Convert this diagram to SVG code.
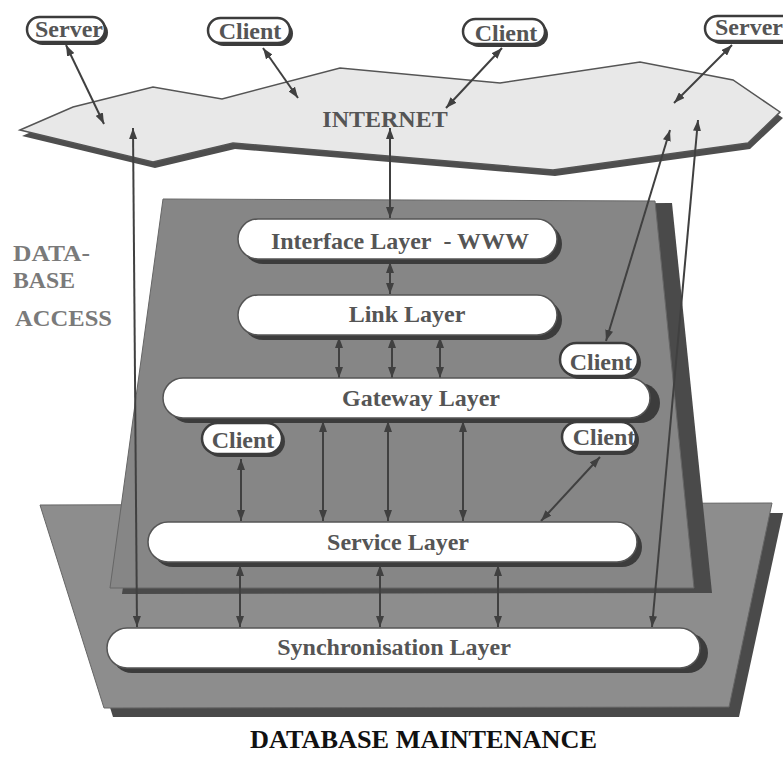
<svg xmlns="http://www.w3.org/2000/svg" width="783" height="775" viewBox="0 0 783 775">
<defs>
<marker id="ah" viewBox="0 0 11 8" refX="11" refY="4" markerWidth="11" markerHeight="8" markerUnits="userSpaceOnUse" orient="auto-start-reverse"><path d="M0,0 L11,4 L0,8 z" fill="#404040"/></marker>
</defs>
<style>
.lbl{font-family:"Liberation Serif","Times New Roman",serif;font-weight:bold;font-size:24px;fill:#555;text-anchor:middle}
.side{font-family:"Liberation Serif","Times New Roman",serif;font-weight:bold;font-size:23px;fill:#7a7a7a}
.title{font-family:"Liberation Serif","Times New Roman",serif;font-weight:bold;font-size:26px;fill:#111}
.pill{fill:#fff;stroke:#555;stroke-width:1.5}
.shadow{fill:#3c3c3c}
.node{fill:#fff;stroke:#3c3c3c;stroke-width:2.5}
.con line{stroke:#404040;stroke-width:2;marker-start:url(#ah);marker-end:url(#ah)}
</style>
<rect x="0" y="0" width="783" height="775" fill="#fff"/>

<g id="maintenance-plane">
<polygon points="50,515 783,513 739,717 113,717" fill="#4a4a4a"/>
<polygon points="40,505 772,503 729,707 104,708" fill="#8d8d8d" stroke="#666" stroke-width="1"/>
</g>

<g id="access-plane">
<polygon points="178,205 672,203 712,593 122,594" fill="#4a4a4a"/>
<polygon points="163,199 655,201 694,588 110,588" fill="#868686" stroke="#666" stroke-width="1"/>
</g>

<g id="internet">
<polygon points="22,136 75,113 155,93 224,105 342,74 502,89 642,68 735,86 783,118 750,149 555,176 235,149 155,168" fill="#4e4e4e"/>
<polygon points="20,130 73,107 153,87 222,99 340,68 500,83 640,62 733,80 780,112 748,143 553,170 233,143 153,162" fill="#e8e8e8" stroke="#555" stroke-width="1.5"/>
<text class="lbl" x="385" y="127" font-size="23">INTERNET</text>
</g>

<g id="side-labels">
<text class="side" x="13" y="261" textLength="77" lengthAdjust="spacingAndGlyphs">DATA-</text>
<text class="side" x="13" y="288" textLength="62" lengthAdjust="spacingAndGlyphs">BASE</text>
<text class="side" x="15" y="326" textLength="97" lengthAdjust="spacingAndGlyphs">ACCESS</text>
</g>

<g id="connectors" class="con">
<line x1="66" y1="45" x2="104" y2="124"/>
<line x1="263" y1="48" x2="298" y2="98"/>
<line x1="502" y1="48" x2="446" y2="108"/>
<line x1="732" y1="45" x2="674" y2="103"/>
<line x1="133" y1="128" x2="137" y2="627"/>
<line x1="390" y1="128" x2="390" y2="218"/>
<line x1="670" y1="130" x2="606" y2="341"/>
<line x1="698" y1="120" x2="652" y2="627"/>
<line x1="390" y1="262" x2="390" y2="294"/>
<line x1="339" y1="337" x2="339" y2="378"/>
<line x1="392" y1="337" x2="392" y2="378"/>
<line x1="440" y1="337" x2="440" y2="378"/>
<line x1="241" y1="459" x2="241" y2="521"/>
<line x1="323" y1="421" x2="323" y2="521"/>
<line x1="388" y1="421" x2="388" y2="521"/>
<line x1="463" y1="421" x2="463" y2="521"/>
<line x1="600" y1="457" x2="541" y2="521"/>
<line x1="240" y1="565" x2="240" y2="627"/>
<line x1="380" y1="565" x2="380" y2="627"/>
<line x1="498" y1="565" x2="498" y2="627"/>
</g>

<g id="interface-layer">
<rect class="shadow" x="243" y="224" width="319" height="40" rx="20"/>
<rect class="pill" x="238" y="219" width="319" height="40" rx="20"/>
<text class="lbl" x="400" y="249">Interface Layer&#160;&#160;- WWW</text>
</g>
<g id="link-layer">
<rect class="shadow" x="243" y="300" width="319" height="40" rx="20"/>
<rect class="pill" x="238" y="295" width="319" height="40" rx="20"/>
<text class="lbl" x="407" y="322">Link Layer</text>
</g>
<g id="gateway-layer">
<rect class="shadow" x="169" y="383" width="491" height="40" rx="20"/>
<rect class="pill" x="163" y="378" width="487" height="40" rx="20"/>
<text class="lbl" x="421" y="406">Gateway Layer</text>
</g>
<g id="service-layer">
<rect class="shadow" x="153" y="527" width="489" height="40" rx="20"/>
<rect class="pill" x="148" y="522" width="489" height="40" rx="20"/>
<text class="lbl" x="398" y="550">Service Layer</text>
</g>
<g id="sync-layer">
<rect class="shadow" x="112" y="633" width="596" height="40" rx="20"/>
<rect class="pill" x="107" y="628" width="593" height="40" rx="20"/>
<text class="lbl" x="394" y="655">Synchronisation Layer</text>
</g>

<g id="server-left">
<rect class="shadow" x="30" y="20" width="78" height="25" rx="12.5"/>
<rect class="node" x="27" y="17" width="78" height="25" rx="12.5"/>
<text class="lbl" x="69" y="37">Server</text>
</g>
<g id="client-top-1">
<rect class="shadow" x="211" y="21" width="82" height="25" rx="12.5"/>
<rect class="node" x="208" y="18" width="82" height="25" rx="12.5"/>
<text class="lbl" x="250" y="39">Client</text>
</g>
<g id="client-top-2">
<rect class="shadow" x="466" y="22" width="82" height="25" rx="12.5"/>
<rect class="node" x="463" y="19" width="82" height="25" rx="12.5"/>
<text class="lbl" x="506" y="41">Client</text>
</g>
<g id="server-right">
<rect class="shadow" x="708" y="19" width="90" height="25" rx="12.5"/>
<rect class="node" x="705" y="16" width="90" height="25" rx="12.5"/>
<text class="lbl" x="749" y="35">Server</text>
</g>
<g id="client-mid-right">
<rect class="shadow" x="563" y="346" width="78" height="33" rx="16.5"/>
<rect class="node" x="560" y="343" width="78" height="33" rx="16.5"/>
<text class="lbl" x="601" y="370">Client</text>
</g>
<g id="client-low-left">
<rect class="shadow" x="205" y="426" width="80" height="31" rx="15.5"/>
<rect class="node" x="202" y="423" width="80" height="31" rx="15.5"/>
<text class="lbl" x="243" y="448">Client</text>
</g>
<g id="client-low-right">
<rect class="shadow" x="565" y="425" width="74" height="30" rx="15"/>
<rect class="node" x="562" y="422" width="74" height="30" rx="15"/>
<text class="lbl" x="604" y="445">Client</text>
</g>

<text class="title" x="250" y="748" textLength="347" lengthAdjust="spacingAndGlyphs">DATABASE MAINTENANCE</text>
</svg>
